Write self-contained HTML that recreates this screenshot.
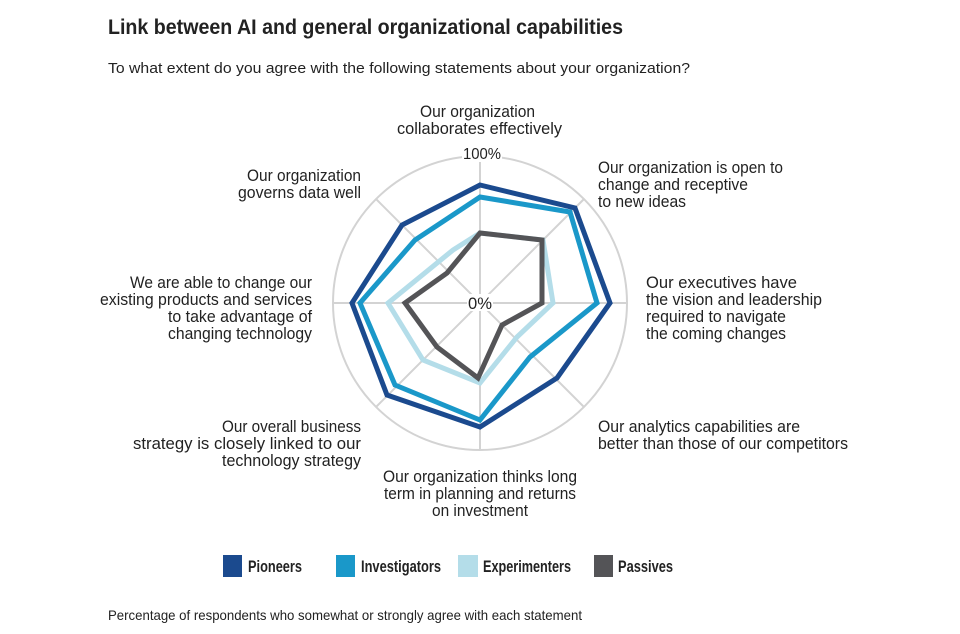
<!DOCTYPE html>
<html><head><meta charset="utf-8"><style>
html,body{margin:0;padding:0;background:#fff}
svg{display:block}
text{font-family:"Liberation Sans Narrow","Liberation Sans",sans-serif;fill:#222}
.l{font-size:17px}
</style></head><body>
<svg width="960" height="634" viewBox="0 0 960 634" xmlns="http://www.w3.org/2000/svg">
<text x="108" y="34" font-size="21" font-weight="bold" textLength="515" lengthAdjust="spacingAndGlyphs">Link between AI and general organizational capabilities</text>
<text x="108" y="73" font-size="15" textLength="582" lengthAdjust="spacingAndGlyphs">To what extent do you agree with the following statements about your organization?</text>
<g stroke="#d3d3d3" stroke-width="2" fill="none">
<circle cx="480" cy="303" r="147"/>
<line x1="480" y1="156" x2="480" y2="450"/>
<line x1="333" y1="303" x2="627" y2="303"/>
<line x1="376" y1="199" x2="584" y2="407"/>
<line x1="376" y1="407" x2="584" y2="199"/>
</g>
<rect x="462" y="145" width="40" height="17" fill="#fff"/>
<text x="482" y="159" font-size="16" text-anchor="middle" fill="#555" textLength="38" lengthAdjust="spacingAndGlyphs">100%</text>
<rect x="467" y="294" width="26" height="17" fill="#fff"/>
<text x="480" y="309" font-size="17" text-anchor="middle" fill="#777" textLength="24" lengthAdjust="spacingAndGlyphs">0%</text>
<g fill="none" stroke-width="5" stroke-linejoin="miter">
<polygon stroke="#b4dde9" points="480,233 543,240 553,303 517,337 480,383 423,360 388,303 453,250"/>
<polygon stroke="#545457" points="480,233 542,240 542,303 502,325 478,378 437,347 405,303 447,273"/>
<polygon stroke="#1a98c9" points="480,197 570,212 597,303 530,357 480,420 395,385 360,303 415,240"/>
<polygon stroke="#1b4a8e" points="480,185 575,208 610,303 557,378 480,427 387,395 352,303 402,225"/>
</g>
<g>
<text class="l" lengthAdjust="spacingAndGlyphs" x="420" y="117" textLength="115">Our organization</text>
<text class="l" lengthAdjust="spacingAndGlyphs" x="397" y="134" textLength="165">collaborates effectively</text>
<text class="l" lengthAdjust="spacingAndGlyphs" x="598" y="173" textLength="185">Our organization is open to</text>
<text class="l" lengthAdjust="spacingAndGlyphs" x="598" y="190" textLength="150">change and receptive</text>
<text class="l" lengthAdjust="spacingAndGlyphs" x="598" y="207" textLength="88">to new ideas</text>
<text class="l" lengthAdjust="spacingAndGlyphs" x="646" y="288" textLength="151">Our executives have</text>
<text class="l" lengthAdjust="spacingAndGlyphs" x="646" y="305" textLength="176">the vision and leadership</text>
<text class="l" lengthAdjust="spacingAndGlyphs" x="646" y="322" textLength="140">required to navigate</text>
<text class="l" lengthAdjust="spacingAndGlyphs" x="646" y="339" textLength="140">the coming changes</text>
<text class="l" lengthAdjust="spacingAndGlyphs" x="598" y="432" textLength="202">Our analytics capabilities are</text>
<text class="l" lengthAdjust="spacingAndGlyphs" x="598" y="449" textLength="250">better than those of our competitors</text>
<text class="l" lengthAdjust="spacingAndGlyphs" x="383" y="482" textLength="194">Our organization thinks long</text>
<text class="l" lengthAdjust="spacingAndGlyphs" x="384" y="499" textLength="192">term in planning and returns</text>
<text class="l" lengthAdjust="spacingAndGlyphs" x="432" y="516" textLength="96">on investment</text>
<text class="l" lengthAdjust="spacingAndGlyphs" x="222" y="432" textLength="139">Our overall business</text>
<text class="l" lengthAdjust="spacingAndGlyphs" x="133" y="449" textLength="228">strategy is closely linked to our</text>
<text class="l" lengthAdjust="spacingAndGlyphs" x="222" y="466" textLength="139">technology strategy</text>
<text class="l" lengthAdjust="spacingAndGlyphs" x="130" y="288" textLength="182">We are able to change our</text>
<text class="l" lengthAdjust="spacingAndGlyphs" x="100" y="305" textLength="212">existing products and services</text>
<text class="l" lengthAdjust="spacingAndGlyphs" x="168" y="322" textLength="144">to take advantage of</text>
<text class="l" lengthAdjust="spacingAndGlyphs" x="168" y="339" textLength="144">changing technology</text>
<text class="l" lengthAdjust="spacingAndGlyphs" x="247" y="181" textLength="114">Our organization</text>
<text class="l" lengthAdjust="spacingAndGlyphs" x="238" y="198" textLength="123">governs data well</text>
</g>
<rect x="223" y="555" width="19" height="22" fill="#1b4a8e"/>
<rect x="336" y="555" width="19" height="22" fill="#1a98c9"/>
<rect x="458" y="555" width="20" height="22" fill="#b4dde9"/>
<rect x="594" y="555" width="19" height="22" fill="#545457"/>
<g font-size="17" font-weight="bold">
<text x="248" y="572" textLength="54" lengthAdjust="spacingAndGlyphs">Pioneers</text>
<text x="361" y="572" textLength="80" lengthAdjust="spacingAndGlyphs">Investigators</text>
<text x="483" y="572" textLength="88" lengthAdjust="spacingAndGlyphs">Experimenters</text>
<text x="618" y="572" textLength="55" lengthAdjust="spacingAndGlyphs">Passives</text>
</g>
<text x="108" y="620" font-size="14" textLength="474" lengthAdjust="spacingAndGlyphs">Percentage of respondents who somewhat or strongly agree with each statement</text>
</svg>
</body></html>
